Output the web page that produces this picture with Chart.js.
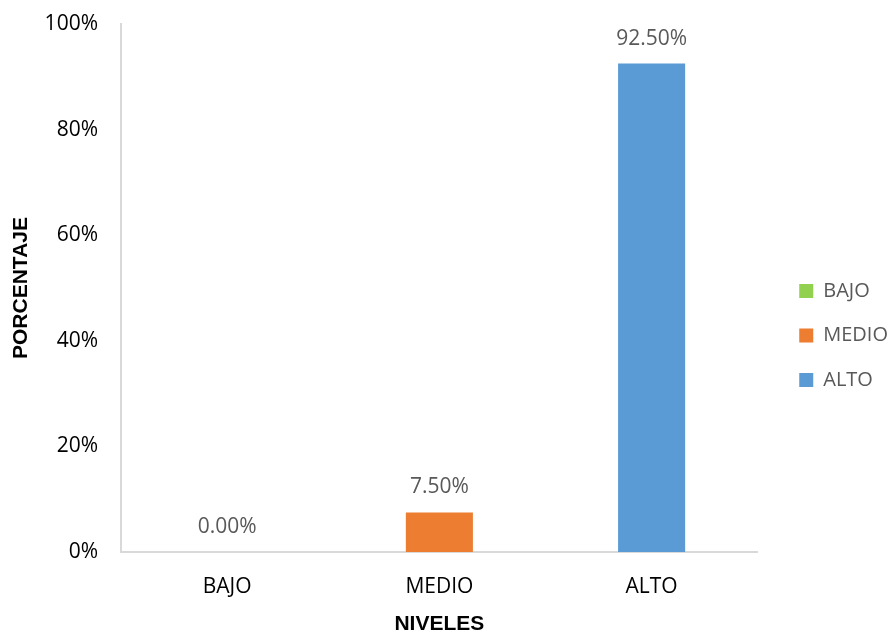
<!DOCTYPE html>
<html>
<head>
<meta charset="utf-8">
<script src="https://cdn.jsdelivr.net/npm/chart.js@4"></script>
<style>
  html, body { margin: 0; padding: 0; background: #fff; }
  #wrap { width: 887px; height: 637px; }
</style>
</head>
<body>
<div id="wrap"><canvas id="chart"></canvas></div>
<script>
// datos
const niveles = ["BAJO", "MEDIO", "ALTO"];
const porcentajes = [0.0, 7.5, 92.5];
const colores = ["#92d050", "#ed7d31", "#5b9bd5"];
const ticksY = [0, 20, 40, 60, 80, 100];

const fuente = '"Open Sans", sans-serif';
const fuenteTitulo = '"Liberation Sans", Arial, sans-serif';

// etiquetas de valor encima de cada barra
const etiquetasBarras = {
    id: 'etiquetasBarras',
    afterDatasetsDraw(chart) {
        const ctx = chart.ctx;
        const meta = chart.getDatasetMeta(0);
        ctx.save();
        ctx.font = '21px ' + fuente;
        ctx.fillStyle = '#595959';
        ctx.textAlign = 'center';
        ctx.textBaseline = 'middle';
        meta.data.forEach((bar, i) => {
            ctx.fillText(porcentajes[i].toFixed(2) + '%', bar.x, bar.y - 25);
        });
        ctx.restore();
    }
};

// mueve la leyenda un poco a la derecha y hacia abajo
const ajusteLeyenda = {
    id: 'ajusteLeyenda',
    afterLayout(chart) {
        const lg = chart.legend;
        lg.left += 17; lg.right += 17;
        lg.top += 5; lg.bottom += 5;
    }
};

new Chart(document.getElementById('chart'), {
    type: 'bar',
    data: {
        labels: niveles,
        datasets: [{
            label: 'Porcentaje',
            data: porcentajes,
            backgroundColor: colores,
            borderWidth: 0,
            categoryPercentage: 1,
            barPercentage: 0.316
        }]
    },
    options: {
        responsive: true,
        maintainAspectRatio: false,
        animation: false,
        layout: {
            padding: { top: 24, right: 6, bottom: 0, left: 0 }
        },
        scales: {
            x: {
                grid: { display: false, drawTicks: false },
                border: { display: true, color: '#d9d9d9', width: 2 },
                ticks: {
                    color: '#000',
                    padding: 22,
                    font: { family: fuente, size: 21 }
                },
                title: {
                    display: true,
                    text: 'NIVELES',
                    color: '#000',
                    padding: { top: 0, bottom: 0 },
                    font: { family: fuenteTitulo, size: 21, weight: 'bold' }
                },
                afterFit(scale) { scale.height = 85; }
            },
            y: {
                min: 0,
                max: 100,
                grid: { display: false, drawTicks: false },
                border: { display: true, color: '#d9d9d9', width: 2 },
                afterBuildTicks(scale) {
                    scale.ticks = ticksY.map(v => ({ value: v }));
                },
                ticks: {
                    color: '#000',
                    padding: 23,
                    font: { family: fuente, size: 21 },
                    callback: v => v + '%'
                },
                title: {
                    display: true,
                    text: 'PORCENTAJE',
                    color: '#000',
                    padding: { top: 9, bottom: 0 },
                    font: { family: fuenteTitulo, size: 21, weight: 'bold' }
                },
                afterFit(scale) {
                    scale.width = 121;
                    scale.paddingTop = 0;
                }
            }
        },
        plugins: {
            legend: {
                position: 'right',
                labels: {
                    boxWidth: 14,
                    boxHeight: 14,
                    padding: 24.5,
                    color: '#595959',
                    font: { family: fuente, size: 20 },
                    generateLabels: () => niveles.map((n, i) => ({
                        text: n,
                        fillStyle: colores[i],
                        strokeStyle: colores[i],
                        lineWidth: 0,
                        fontColor: '#595959',
                        index: i
                    }))
                }
            },
            tooltip: { enabled: false }
        }
    },
    plugins: [etiquetasBarras, ajusteLeyenda]
});
</script>
</body>
</html>
